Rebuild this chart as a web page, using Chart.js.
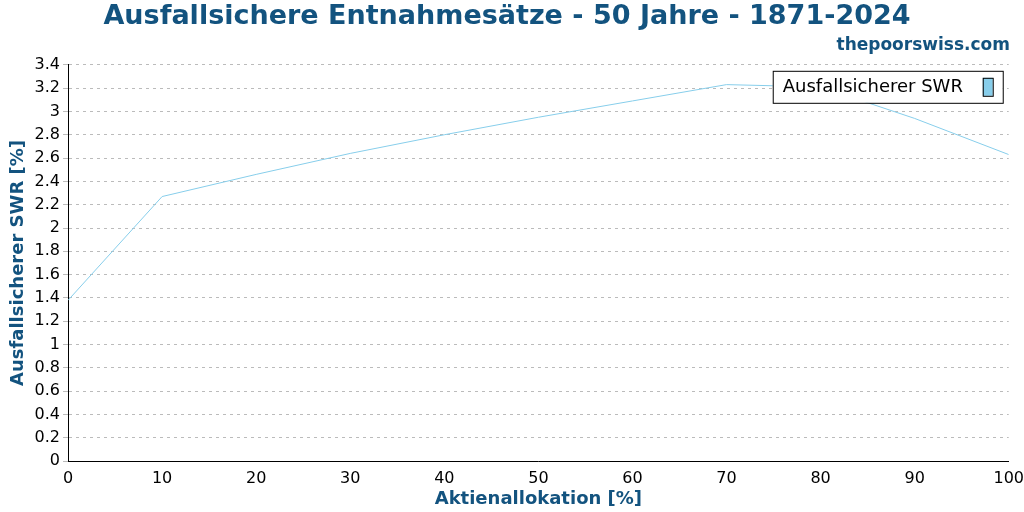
<!DOCTYPE html>
<html>
<head>
<meta charset="utf-8">
<script src="https://cdn.jsdelivr.net/npm/chart.js@4"></script>
<style>
  body { margin: 0; background: #fff; }
  #wrap { width: 1024px; height: 512px; }
</style>
</head>
<body>
<div id="wrap"><canvas id="swr_chart"></canvas></div>
<script>
const allocations = [0, 10, 20, 30, 40, 50, 60, 70, 80, 90, 100];
const swrValues = [1.38, 2.27, 2.46, 2.64, 2.80, 2.95, 3.09, 3.23, 3.21, 2.94, 2.63];
const seriesName = 'Ausfallsicherer SWR';

const blue = '#87ceeb';
const titleBlue = '#13537f';

// legend box drawn inside the plot area, top right
const boxLegend = {
  id: 'boxLegend',
  afterDraw(chart) {
    const ctx = chart.ctx;
    const a = chart.chartArea;
    ctx.save();
    ctx.font = '18px "DejaVu Sans"';
    const w = 230, h = 32;
    const x = a.right - 236, y = a.top + 6;
    ctx.fillStyle = '#fff';
    ctx.fillRect(x, y, w, h);
    ctx.strokeStyle = '#000';
    ctx.lineWidth = 1;
    ctx.strokeRect(x + 0.5, y + 0.5, w, h);
    ctx.fillStyle = '#000';
    ctx.textBaseline = 'middle';
    ctx.fillText(seriesName, x + 10, y + h / 2 + 1);
    ctx.fillStyle = blue;
    ctx.fillRect(x + w - 20, y + 7, 10, 18);
    ctx.strokeRect(x + w - 20 + 0.5, y + 7.5, 10, 18);
    ctx.restore();
  }
};

const config = {
  type: 'line',
  data: {
    datasets: [{
      label: seriesName,
      data: allocations.map((a, i) => ({ x: a, y: swrValues[i] })),
      borderColor: blue,
      borderWidth: 1,
      pointRadius: 0,
      tension: 0
    }]
  },
  options: {
    responsive: true,
    maintainAspectRatio: false,
    animation: false,
    layout: { padding: { right: 14, top: 1, bottom: 2, left: 4 } },
    plugins: {
      legend: { display: false },
      tooltip: { enabled: false },
      title: {
        display: true,
        text: 'Ausfallsichere Entnahmesätze - 50 Jahre - 1871-2024',
        color: titleBlue,
        font: { family: 'DejaVu Sans', size: 27, weight: 'bold' },
        padding: { top: 0, bottom: 0 }
      },
      subtitle: {
        display: true,
        text: 'thepoorswiss.com',
        align: 'end',
        color: titleBlue,
        font: { family: 'DejaVu Sans', size: 17, weight: 'bold' },
        padding: { top: 2, bottom: 9 }
      }
    },
    scales: {
      x: {
        type: 'linear',
        min: 0, max: 100,
        ticks: { stepSize: 10, color: '#000', font: { family: 'DejaVu Sans', size: 16 }, padding: 0 },
        grid: { display: false },
        border: { color: '#000' },
        title: {
          display: true, text: 'Aktienallokation [%]', color: titleBlue,
          font: { family: 'DejaVu Sans', size: 18, weight: 'bold' }, padding: { top: 0, bottom: 0 }
        }
      },
      y: {
        min: 0, max: 3.4,
        ticks: { stepSize: 0.2, color: '#000', font: { family: 'DejaVu Sans', size: 16 },
          callback: v => Math.round(v * 10) / 10 },
        grid: { color: '#bbb', drawTicks: true, tickLength: 5 },
        border: { color: '#000', dash: [3, 4] },
        title: {
          display: true, text: 'Ausfallsicherer SWR [%]', color: titleBlue,
          font: { family: 'DejaVu Sans', size: 18, weight: 'bold' }, padding: { bottom: 2 }
        }
      }
    }
  },
  plugins: [boxLegend]
};

new Chart(document.getElementById('swr_chart'), config);
</script>
</body>
</html>
